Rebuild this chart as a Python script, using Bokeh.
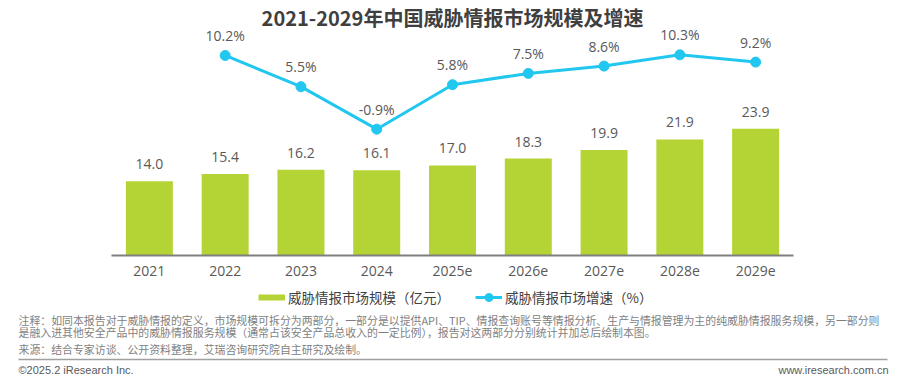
from bokeh.plotting import figure
from bokeh.models import (ColumnDataSource, Range1d, FactorRange, Label, Legend,
                          LegendItem, BoxAnnotation)
from bokeh.embed import file_html
from bokeh.resources import INLINE
from bokeh.core.properties import value

# ---------------- data ----------------
years = ["2021", "2022", "2023", "2024", "2025e", "2026e", "2027e", "2028e", "2029e"]
market_size = [14.0, 15.4, 16.2, 16.1, 17.0, 18.3, 19.9, 21.9, 23.9]
growth_years = ["2022", "2023", "2024", "2025e", "2026e", "2027e", "2028e", "2029e"]
growth_rate = [10.2, 5.5, -0.9, 5.8, 7.5, 8.6, 10.3, 9.2]

title_text = "2021-2029年中国威胁情报市场规模及增速"
legend_bar = "威胁情报市场规模（亿元）"
legend_line = "威胁情报市场增速（%）"
note_line1 = ("注释：如同本报告对于威胁情报的定义，市场规模可拆分为两部分，一部分是以提供API、TIP、"
              "情报查询账号等情报分析、生产与情报管理为主的纯威胁情报服务规模，另一部分则")
note_line2 = ("是融入进其他安全产品中的威胁情报服务规模（通常占该安全产品总收入的一定比例），"
              "报告对这两部分分别统计并加总后绘制本图。")
source_text = "来源：结合专家访谈、公开资料整理，艾瑞咨询研究院自主研究及绘制。"
copyright_text = "©2025.2 iResearch Inc."
website_text = "www.iresearch.com.cn"

# ---------------- style / layout ----------------
GREEN = "#B4D334"
CYAN = "#22C7EF"
VAL_COLOR = "#595959"
CJK = "Noto Sans CJK SC"
NUM = "Open Sans"

W, H = 899, 384
LEFT = 5
frame_w = W - LEFT
n_cat = len(years)
cat_px = 75.78
pad = (frame_w / cat_px - n_cat) / 2
x0_px = LEFT + pad * cat_px          # canvas x of the first category's left edge
BASE = 255                            # canvas y of the bar baseline
bar_px = 5.30
g_px = 6.64
g_zero = 122.7                        # canvas y of 0 %


def sx(px):  # canvas pixel -> synthetic x
    return (px - x0_px) / cat_px


def sy(py):  # canvas pixel (from top) -> bar-axis data y
    return (BASE - py) / bar_px


p = figure(width=W, height=H,
           x_range=FactorRange(factors=years, range_padding=pad,
                               range_padding_units="absolute"),
           y_range=Range1d(sy(H), sy(0)), output_backend="svg", toolbar_location=None,
           y_axis_location=None, min_border_left=LEFT, min_border_right=0,
           min_border_top=0, min_border_bottom=0, outline_line_color=None)
p.extra_y_ranges = {"g": Range1d(-(H - g_zero) / g_px, g_zero / g_px)}
p.xgrid.visible = False
p.ygrid.visible = False

bar_src = ColumnDataSource(dict(x=years, y=market_size,
                                lbl=[f"{v:.1f}" for v in market_size]))
p.vbar(x="x", top="y", width=0.62, source=bar_src, fill_color=GREEN, line_color=None)
p.text(x="x", y="y", text="lbl", source=bar_src, text_align="center",
       text_baseline="middle", y_offset=-17, text_font=value(NUM),
       text_font_size="14px", text_color=VAL_COLOR)

g_src = ColumnDataSource(dict(x=growth_years, y=growth_rate,
                              lbl=[f"{v:.1f}%" for v in growth_rate]))
line_r = p.line(x="x", y="y", source=g_src, y_range_name="g", line_color=CYAN, line_width=3)
dots_r = p.scatter(x="x", y="y", source=g_src, y_range_name="g", marker="circle", size=10,
                   fill_color=CYAN, line_color=CYAN)
p.text(x="x", y="y", text="lbl", source=g_src, y_range_name="g", text_align="center",
       text_baseline="middle", y_offset=-20, text_font=value(NUM),
       text_font_size="14px", text_color=VAL_COLOR)

ax = p.xaxis[0]
ax.fixed_location = 0
ax.bounds = (0, n_cat)
ax.axis_line_color = "#7F7F7F"
ax.axis_line_width = 2
ax.major_tick_line_color = None
ax.minor_tick_line_color = None
ax.major_label_text_font = NUM
ax.major_label_text_font_size = "14px"
ax.major_label_text_color = VAL_COLOR
ax.major_label_standoff = 4

# title
p.add_layout(Label(x=n_cat / 2, y=sy(17), text=title_text, text_align="center",
                   text_baseline="middle", text_font=CJK, text_font_style="bold",
                   text_font_size="20px", text_color="#3F3F3F"))

# legend (the bar entry uses a one-point line as a thin swatch proxy)
legend_left, legend_top, legend_h = 258, 287, 20
proxy = p.line(x=years[:1], y=market_size[:1], line_color=GREEN, line_width=6)
legend = Legend(items=[LegendItem(label=legend_bar, renderers=[proxy]),
                       LegendItem(label=legend_line, renderers=[line_r, dots_r])],
                orientation="horizontal",
                location=(legend_left - LEFT, H - legend_top - legend_h),
                border_line_color=None, background_fill_alpha=0,
                glyph_width=27, glyph_height=legend_h, label_height=legend_h,
                label_standoff=3, spacing=25, padding=0, margin=0,
                label_text_font=CJK, label_text_font_size="13.5px",
                label_text_color="#404040")
p.add_layout(legend)

# footer
NOTE_COLOR = "#7F7F7F"
for txt, yy in [(note_line1, 319), (note_line2, 331), (source_text, 348)]:
    p.add_layout(Label(x=sx(18), y=sy(yy), text=txt, text_align="left",
                       text_baseline="middle", text_font=CJK, text_font_size="10.9px",
                       text_color=NOTE_COLOR))
p.add_layout(BoxAnnotation(left=sx(18), right=sx(887), top=sy(358.3), bottom=sy(359.8),
                           fill_color="#A0A0A0", fill_alpha=1, line_color=None))
p.add_layout(Label(x=sx(18), y=sy(369), text=copyright_text, text_align="left",
                   text_baseline="middle", text_font="Liberation Sans",
                   text_font_size="11px", text_color=VAL_COLOR))
p.add_layout(Label(x=sx(888), y=sy(369), text=website_text, text_align="right",
                   text_baseline="middle", text_font="Liberation Sans",
                   text_font_size="11px", text_color=VAL_COLOR))

open("out.html", "w").write(file_html(p, INLINE))
